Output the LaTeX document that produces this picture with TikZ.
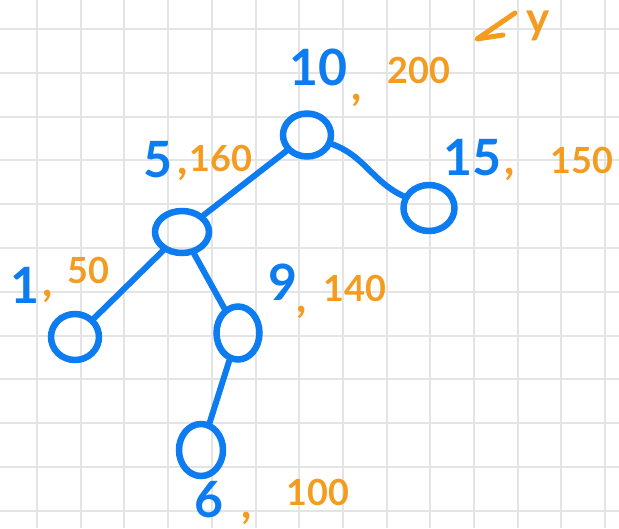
\documentclass[tikz,border=0pt]{standalone}
\usepackage{fontspec}
\setmainfont{Lato}
\usetikzlibrary{shapes.geometric}
\definecolor{inkblue}{RGB}{12,124,240}
\definecolor{inkorange}{RGB}{243,156,32}
\definecolor{gridgray}{RGB}{228,228,228}
\begin{document}
\begin{tikzpicture}[x=1pt,y=-1pt,
  treenode/.style={draw=inkblue, line width=6.5pt, ellipse, inner sep=0pt},
  keylabel/.style={text=inkblue, font=\bfseries\fontsize{50}{50}\selectfont, inner sep=0pt},
  priolabel/.style={text=inkorange, font=\bfseries\fontsize{36}{36}\selectfont, inner sep=0pt},
  commalabel/.style={text=inkorange, font=\bfseries\fontsize{44}{44}\selectfont, inner sep=0pt},
  treeedge/.style={draw=inkblue, line width=6pt, line cap=round},
  gridline/.style={draw=gridgray, line width=2pt}]
\useasboundingbox (0,0) rectangle (619,528);
\fill[white] (0,0) rectangle (619,528);
% grid
\foreach \i in {0,...,13} \draw[gridline] ({37+43.7*\i},0) -- ({37+43.7*\i},528);
\foreach \j in {0,...,11} \draw[gridline] (0,{29+43.8*\j}) -- (619,{29+43.8*\j});
% tree nodes
\node[treenode, minimum width=48pt, minimum height=43pt] (n10) at (307,135) {};
\node[treenode, minimum width=51pt, minimum height=46pt] (n15) at (429,208) {};
\node[treenode, minimum width=54pt, minimum height=42pt] (n5) at (182,232) {};
\node[treenode, minimum width=48pt, minimum height=46pt] (n1) at (75,337) {};
\node[treenode, minimum width=43pt, minimum height=53pt] (n9) at (238,333) {};
\node[treenode, minimum width=44pt, minimum height=52pt] (n6) at (201,450) {};
% edges
\draw[treeedge] (n10) -- (n5);
\draw[treeedge] (n10) to[out=-20, in=155] (n15);
\draw[treeedge] (n5) -- (n1);
\draw[treeedge] (n5) -- (n9);
\draw[treeedge] (n9) -- (n6);
% key labels
\node[keylabel] (k10) at (318,67) {10};
\node[keylabel] (k5) at (158,160) {5};
\node[keylabel] (k15) at (472,158) {15};
\node[keylabel] (k1) at (25,285) {1};
\node[keylabel] (k9) at (283,282) {9};
\node[keylabel] (k6) at (209,500) {6};
% priority labels
\node[commalabel] (c10) at (357,100) {,};
\node[priolabel] (p10) at (419,70) {200};
\node[commalabel] (c5) at (183,174) {,};
\node[priolabel] (p5) at (221,158) {160};
\node[commalabel] (c15) at (510,174) {,};
\node[priolabel] (p15) at (582,160) {150};
\node[commalabel] (c1) at (48,296) {,};
\node[priolabel] (p1) at (88,270) {50};
\node[commalabel] (c9) at (302,312) {,};
\node[priolabel] (p9) at (355,288) {140};
\node[commalabel] (c6) at (247,518) {,};
\node[priolabel] (p6) at (318,492) {100};
% y annotation
\node[priolabel, font=\bfseries\fontsize{44}{44}\selectfont] (ylab) at (538,26) {y};
\draw[draw=inkorange, line width=5pt, line cap=round, line join=round] (515,13) -- (477,39) -- (503,35);
\end{tikzpicture}
\end{document}
